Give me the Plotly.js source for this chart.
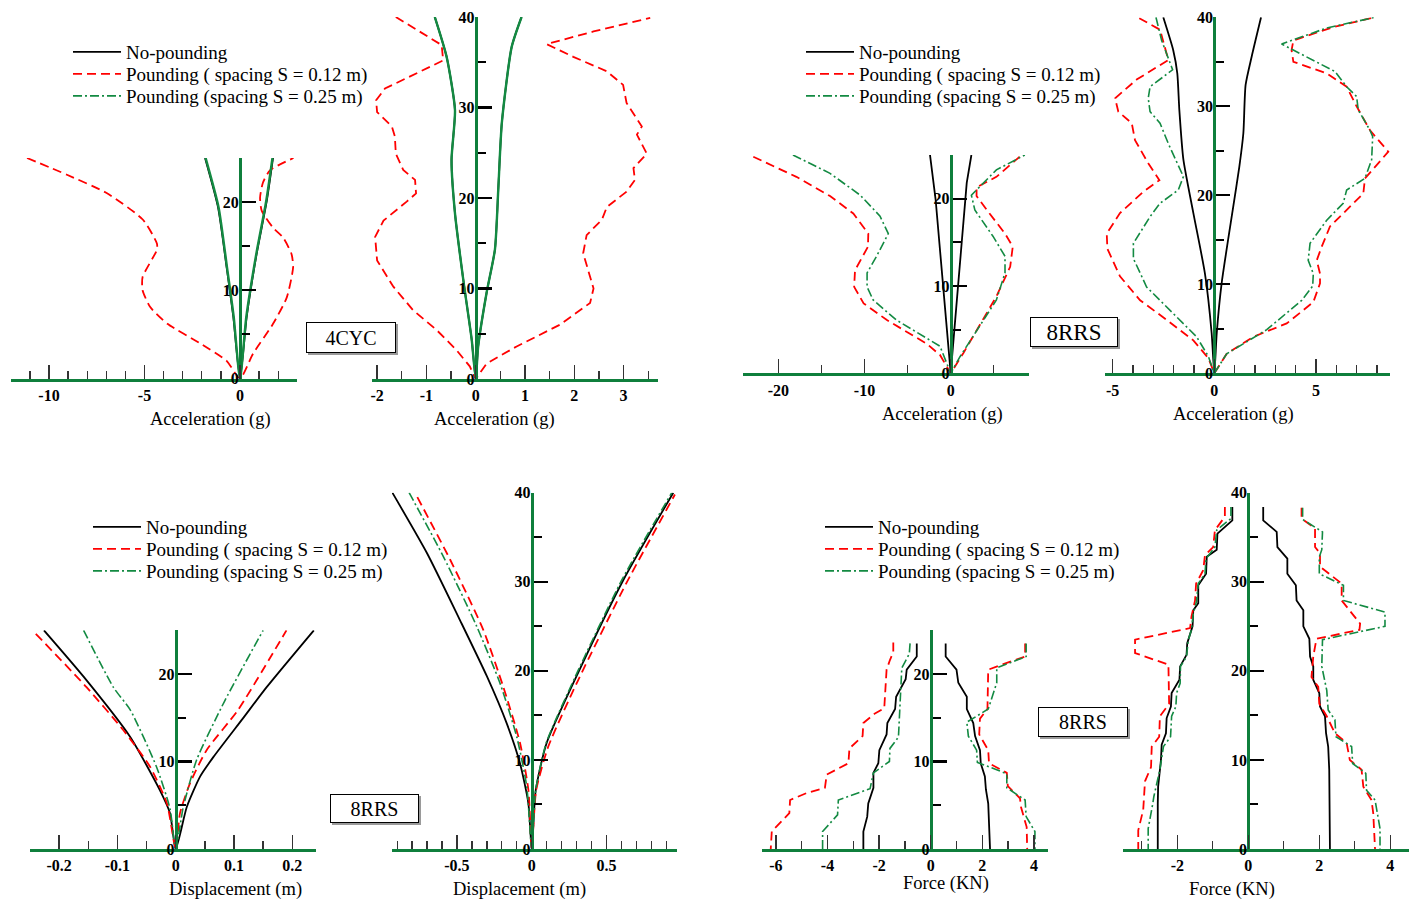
<!DOCTYPE html>
<html><head><meta charset="utf-8">
<script src="https://cdn.plot.ly/plotly-3.0.1.min.js"></script>
<style>html,body{margin:0;padding:0;background:#fff;}#chart{width:1420px;height:903px;}</style>
</head><body><div id="chart"></div>
<script>
// ---------- DATA ----------
// Panel 1: 4CYC, short building, acceleration (g)
const p1NoPoundX = [-1.83, -1.15, -0.7, -0.35, 0, 0.35, 0.87, 1.4, 1.73];
const p1NoPoundY = [25, 19.4, 12.6, 7, 0, 7, 14.1, 20.1, 25];
const p1Pound012X = [-11.15,-9.06,-6.96,-5.08,-4.35,-4.35,-5.1,-5.1,-4.7,-3.8,-2.1,-0.7,0,0.68,1.73,2.45,2.78,2.7,2.25,1.73,1.14,1.05,1.2,1.57,2.8];
const p1Pound012Y = [25,23.1,21.0,18.0,15.3,14.6,11.5,10.0,8.1,6.2,4.0,2.0,0,2.8,6.2,9.2,12.6,14.1,16.0,17.1,19.0,20.5,22.2,23.6,25];
const p1Pound025X = [-1.8, -1.12, -0.68, -0.33, 0, 0.33, 0.85, 1.37, 1.7];
const p1Pound025Y = [25, 19.4, 12.6, 7, 0, 7, 14.1, 20.1, 25];

// Panel 2: 4CYC, tall building, acceleration (g)
const p2NoPoundX = [-0.83,-0.59,-0.42,-0.49,-0.42,-0.25,-0.08,0,0.05,0.22,0.39,0.46,0.53,0.73,0.93];
const p2NoPoundY = [40,35.6,29.7,24.2,18.3,10.9,4.3,0,3.6,9.5,14.3,21.2,28.3,36.7,40];
const p2Pound012X = [-1.62,-0.69,-0.66,-1.4,-1.84,-2.02,-2.0,-1.7,-1.64,-1.62,-1.47,-1.23,-1.21,-1.4,-1.87,-2.04,-2.0,-1.67,-1.27,-0.79,-0.39,-0.12,0,0.22,0.83,1.71,2.32,2.39,2.18,2.25,2.56,2.66,3.06,3.23,3.2,3.47,3.27,3.37,3.06,2.99,2.66,1.98,1.44,2.39,3.54];
const p2Pound012Y = [40,36.9,35.2,33.2,32.1,30.8,29.5,27.9,26.8,24.9,23.1,22.0,20.5,19.6,17.5,15.7,13.1,10.2,7.6,5.4,3.2,1.4,0,1.7,3.6,6.0,8.4,10.0,13.9,15.9,17.6,19.0,20.7,22.0,23.3,24.9,27.0,27.9,30.5,32.5,34.0,35.6,37.0,38.4,39.9];
const p2Pound025X = [-0.83,-0.59,-0.42,-0.49,-0.42,-0.25,-0.08,0,0.05,0.22,0.39,0.46,0.53,0.73,0.93];
const p2Pound025Y = [40,35.6,29.7,24.2,18.3,10.9,4.3,0,3.6,9.5,14.3,21.2,28.3,36.7,40];

// Panel 3: 8RRS, short building, acceleration (g)
const p3NoPoundX = [-2.4,-1.75,0,1.86,2.4];
const p3NoPoundY = [25,19.9,0,21.8,25];
const p3Pound012X = [-22.9,-17.9,-14.0,-11.3,-9.56,-9.6,-11.1,-11.2,-10.1,-7.4,-2.8,-1.24,0,1.46,5.3,6.9,7.2,6.3,4.2,3.0,3.0,5.3,8.0];
const p3Pound012Y = [24.8,22.5,20.3,18.3,16.0,14.5,11.8,9.9,8.0,6.1,3.4,2.1,0,2.3,8.8,12.2,14.5,16.0,18.7,20.3,21.3,22.5,24.8];
const p3Pound025X = [-18.3,-14.0,-10.5,-8.2,-7.24,-8.6,-9.7,-9.7,-9.0,-6.3,-1.24,0,1.08,5.3,6.3,6.3,4.9,3.8,2.8,2.4,5.3,8.6];
const p3Pound025Y = [25,22.9,20.4,18.0,16.0,13.4,11.5,9.9,8.4,6.1,3.1,0,1.9,8.4,11.5,13.4,15.7,17.2,18.7,20.4,23.3,25];

// Panel 4: 8RRS, tall building, acceleration (g)
const p4NoPoundX = [-2.51,-2.02,-1.82,-1.72,-1.52,-1.03,-0.46,-0.13,0,0.12,0.36,0.93,1.23,1.43,1.54,1.84,2.3];
const p4NoPoundY = [40,36.3,33.7,29.6,24,18,11.2,4.5,0,4.5,10.1,18.7,23.2,27,32.4,35.6,40];
const p4Pound012X = [-3.69,-2.67,-2.26,-3.82,-4.88,-4.72,-4.06,-3.9,-3.25,-2.7,-3.49,-4.64,-5.29,-5.26,-4.64,-3.65,-2.34,-1.03,-0.29,0,0.61,1.92,3.56,4.87,5.2,5.2,5.04,5.28,5.69,6.67,7.33,7.41,8.56,7.66,7.0,6.51,5.53,3.89,3.8,3.89,5.85,7.9];
const p4Pound012Y = [39.9,38.6,35.2,33.0,30.9,29.4,28.1,26.2,23.6,21.7,20.4,18.0,15.7,14.0,10.9,8.2,6.0,3.7,1.7,0,2.2,4.1,5.6,8.0,10.1,11.2,12.7,14.2,16.5,18.7,20.2,21.9,24.9,27.3,30.0,32.2,33.7,35.0,36.3,37.4,38.9,40];
const p4Pound025X = [-2.87,-2.59,-2.05,-3.16,-3.25,-3.16,-2.67,-2.26,-1.52,-1.77,-2.67,-3.16,-3.98,-3.98,-3.33,-2.02,-0.87,-0.29,0,0.36,0.61,2.58,4.3,4.84,4.87,4.62,4.71,5.53,6.34,6.51,7.41,7.74,7.79,7.66,7.08,7.0,6.51,5.94,4.54,3.31,5.53,7.9];
const p4Pound025Y = [40,37.4,34.1,32.2,30.9,29.4,28.1,25.8,22.1,20.6,19.1,17.6,14.6,12.9,9.7,6.7,4.1,1.9,0,1.3,2.2,4.9,8.2,9.8,11.2,12.7,14.6,17.2,19.1,20.6,21.9,24.0,26.6,27.3,29.6,31.1,32.2,33.9,35.6,37.0,38.8,40];

// Panel 5: 8RRS, short building, displacement (m)
const p5NoPoundX = [-0.226,-0.158,-0.078,-0.027,-0.0098,0,0.019,0.042,0.0645,0.115,0.156,0.237];
const p5NoPoundY = [25,19.7,12.8,6.7,4.1,0,4.8,8.3,10.5,14.9,18.5,25];
const p5Pound012X = [-0.24,-0.153,-0.09,-0.044,-0.015,0,0.0074,0.0245,0.053,0.107,0.19];
const p5Pound012Y = [24.6,18.5,13.6,9.4,5.2,0,4.1,7.5,11.3,15.9,25];
const p5Pound025X = [-0.158,-0.107,-0.078,-0.033,-0.0098,0,0.013,0.036,0.0846,0.150];
const p5Pound025Y = [25,18.5,15.9,9.4,4.6,0,4.8,10.2,17,25];

// Panel 6: 8RRS, tall building, displacement (m)
const p6NoPoundX = [-0.932,-0.70,-0.48,-0.30,-0.167,-0.078,-0.022,0,0.027,0.10,0.30,0.613,0.947];
const p6NoPoundY = [40,33.2,25.7,19.4,14.1,9.6,5.1,0,6.6,11.9,19.4,30.2,40];
const p6Pound012X = [-0.765,-0.546,-0.324,-0.19,-0.078,-0.022,0,0.03,0.111,0.312,0.635,0.958];
const p6Pound012Y = [39.5,32.5,24.6,18.2,11.9,6.6,0,6.6,11.5,19.0,29.9,39.8];
const p6Pound025X = [-0.82,-0.59,-0.368,-0.212,-0.1,-0.033,0,0.027,0.097,0.293,0.603,0.937];
const p6Pound025Y = [40,32.8,25,18.6,12.6,7,0,6.6,11.9,19.4,30.2,40];

// Panel 7: 8RRS, short building, force (KN)
const p7NoPoundX = [-0.54,-0.54,-0.93,-0.97,-1.34,-1.38,-1.68,-1.71,-1.99,-2.03,-2.22,-2.22,-2.42,-2.46,-2.61,-2.61,null,0.58,0.58,1.0,1.07,1.40,1.40,1.65,1.72,1.91,1.94,2.10,2.14,2.23,2.27,2.3];
const p7NoPoundY = [23.5,22.0,20.5,19.4,17.4,16.0,14.4,13.1,11.3,9.8,8.7,7.0,5.2,3.7,2.0,0,null,23.5,22.0,20.5,19.0,17.4,16.0,14.4,12.9,11.3,9.8,8.3,6.8,5.2,1.8,0];
const p7Pound012X = [-1.45,-1.45,-1.58,-1.71,-1.8,-2.16,-2.61,-2.64,-3.15,-3.19,-4.03,-4.1,-4.81,-5.45,-5.48,-6.16,-6.2,null,3.66,3.66,2.69,2.23,2.2,1.91,1.88,2.23,2.26,2.95,2.99,3.46,3.5,3.72,3.74];
const p7Pound012Y = [23.6,22.5,21.6,20.5,16.1,15.5,14.4,12.9,11.5,9.8,8.5,7.0,6.4,5.6,4.1,2.0,0,null,23.5,22.0,21.0,20.5,16.0,14.9,13.1,11.3,9.8,8.7,7.2,5.8,4.8,2.5,0];
const p7Pound025X = [-0.80,-0.83,-1.12,-1.15,-1.25,-1.58,-1.6,-2.22,-2.35,-3.58,-3.61,-4.19,-4.19,null,3.7,3.7,2.56,2.56,2.23,1.40,1.46,1.78,1.81,2.95,2.95,3.66,3.7,4.04,4.04];
const p7Pound025Y = [23.5,22.3,20.7,18.6,12.8,11.5,10.0,8.7,6.9,5.6,3.9,2.0,0,null,23.5,22.0,20.7,19.0,16.0,14.5,12.9,11.3,9.9,8.6,7.0,5.6,3.7,2.0,0];

// Panel 8: 8RRS, tall building, force (KN)
const p8NoPoundX = [-0.45,-0.45,-0.87,-0.89,-1.17,-1.19,-1.41,-1.41,-1.55,-1.57,-1.72,-1.74,-1.92,-1.94,-2.16,-2.18,-2.3,-2.32,-2.44,-2.46,-2.54,-2.55,-2.55,null,0.42,0.42,0.8,0.82,1.1,1.1,1.34,1.36,1.55,1.55,1.72,1.74,1.83,1.83,2.0,2.02,2.16,2.19,2.25,2.28,2.3];
const p8NoPoundY = [38.4,36.9,35.4,33.6,32.8,30.9,29.6,27.6,26.8,25.0,23.1,21.8,20.5,19.0,17.5,16.0,14.7,13.0,11.7,10.0,7.0,5.1,0,null,38.4,36.9,35.6,33.9,32.6,30.9,29.6,27.9,26.8,25.0,23.6,21.6,20.5,19.0,17.5,16.0,14.9,13.0,11.5,8.9,0];
const p8Pound012X = [-0.66,-0.66,-0.94,-0.99,-1.22,-1.27,-1.47,-1.5,-1.6,-1.64,-3.19,-3.19,-2.25,-2.23,-2.49,-2.51,-2.72,-2.74,-2.91,-2.96,-3.1,-3.1,null,1.5,1.5,1.88,1.88,2.02,2.02,2.63,2.63,3.15,3.13,1.92,1.83,1.78,1.97,2.0,2.21,2.44,2.77,2.86,3.19,3.24,3.47,3.52,3.57];
const p8Pound012Y = [38.4,37.3,35.8,33.9,33.0,31.3,29.8,27.9,26.1,24.8,23.5,22.0,20.7,16.3,14.9,12.6,11.5,9.2,7.6,4.4,2.1,0,null,38.3,37.1,36.0,33.9,33.2,31.7,29.8,27.9,25.3,24.6,23.6,21.6,19.3,18.2,16.3,14.9,13.0,11.9,10.0,8.9,7.0,5.5,4.0,0];
const p8Pound025X = [-0.49,-0.49,-0.89,-0.94,-1.19,-1.22,-1.41,-1.46,-1.55,-1.6,-1.69,-1.74,-1.91,-1.92,-2.02,-2.04,-2.16,-2.19,-2.39,-2.49,-2.66,-2.69,-2.82,-2.82,null,1.53,1.53,2.09,2.07,2.0,2.0,2.68,2.68,3.85,3.85,2.09,2.07,2.21,2.25,2.44,2.47,2.91,2.94,3.31,3.33,3.57,3.71,3.71];
const p8Pound025Y = [38.4,37.1,35.8,33.9,32.6,30.9,29.8,27.8,26.4,24.6,23.5,21.6,20.5,18.6,17.5,16.0,14.9,12.6,11.5,8.9,5.9,5.1,2.3,0,null,38.3,37.0,35.6,33.6,32.8,30.9,29.6,27.9,26.6,25.0,23.5,20.5,17.8,15.6,14.5,12.6,11.5,9.6,8.5,6.6,5.5,2.3,0];

// Tick labels
const xTicks1 = [-10,-5,0];          const xTickText1 = ['-10','-5','0'];
const xTicks2 = [-2,-1,0,1,2,3];     const xTickText2 = ['-2','-1','0','1','2','3'];
const xTicks3 = [-20,-10,0];         const xTickText3 = ['-20','-10','0'];
const xTicks4 = [-5,0,5];            const xTickText4 = ['-5','0','5'];
const xTicks5 = [-0.2,-0.1,0,0.1,0.2]; const xTickText5 = ['-0.2','-0.1','0','0.1','0.2'];
const xTicks6 = [-0.5,0,0.5];        const xTickText6 = ['-0.5','0','0.5'];
const xTicks7 = [-6,-4,-2,0,2,4];    const xTickText7 = ['-6','-4','-2','0','2','4'];
const xTicks8 = [-2,0,2,4];          const xTickText8 = ['-2','0','2','4'];
const yTicksShort = [0,10,20];       const yTickTextShort = ['0','10','20'];
const yTicksTall = [0,10,20,30,40];  const yTickTextTall = ['0','10','20','30','40'];

const seriesNames = ['No-pounding','Pounding ( spacing S = 0.12 m)','Pounding (spacing S = 0.25 m)'];
const accTitle = 'Acceleration (g)', dispTitle = 'Displacement (m)', forceTitle = 'Force (KN)';
const boxLabels = ['4CYC','8RRS','8RRS','8RRS'];

// ---------- LAYOUT / STYLE ----------
const W = 1420, H = 903;
const GREEN = '#0f7f3c';
const FONT = '"Liberation Serif","Times New Roman",Times,serif';

const panels = [
  {xL:11,  xR:297,  x0:240,    kx:19.1,  yB:378.5, yT:158,   ymax:25, xt:xTicks1, xtt:xTickText1, xmin:1,    yt:yTicksShort, ytt:yTickTextShort, smooth:[true,true,true]},
  {xL:372, xR:658,  x0:475.7,  kx:49.3,  yB:379,   yT:17,    ymax:40, xt:xTicks2, xtt:xTickText2, xmin:0.5,  yt:yTicksTall,  ytt:yTickTextTall,  smooth:[true,false,true]},
  {xL:743, xR:1029, x0:950.7,  kx:8.62,  yB:373.3, yT:155,   ymax:25, xt:xTicks3, xtt:xTickText3, xmin:5,    yt:yTicksShort, ytt:yTickTextShort, smooth:[false,false,false]},
  {xL:1105,xR:1390, x0:1214.3, kx:20.33, yB:373.3, yT:17.3,  ymax:40, xt:xTicks4, xtt:xTickText4, xmin:1,    yt:yTicksTall,  ytt:yTickTextTall,  smooth:[true,false,false]},
  {xL:30,  xR:316,  x0:175.7,  kx:583,   yB:849,   yT:630.3, ymax:25, xt:xTicks5, xtt:xTickText5, xmin:0.05, yt:yTicksShort, ytt:yTickTextShort, smooth:[true,true,true]},
  {xL:392, xR:677,  x0:531.7,  kx:149.5, yB:849,   yT:492.7, ymax:40, xt:xTicks6, xtt:xTickText6, xmin:0.1,  yt:yTicksTall,  ytt:yTickTextTall,  smooth:[true,true,true]},
  {xL:762, xR:1048, x0:930.7,  kx:25.8,  yB:849,   yT:630.3, ymax:25, xt:xTicks7, xtt:xTickText7, xmin:1,    yt:yTicksShort, ytt:yTickTextShort, smooth:[false,false,false]},
  {xL:1123,xR:1409, x0:1248.3, kx:35.5,  yB:849,   yT:492.7, ymax:40, xt:xTicks8, xtt:xTickText8, xmin:1,    yt:yTicksTall,  ytt:yTickTextTall,  smooth:[false,false,false]}
];

const seriesData = [
  [[p1NoPoundX,p1NoPoundY],[p1Pound012X,p1Pound012Y],[p1Pound025X,p1Pound025Y]],
  [[p2NoPoundX,p2NoPoundY],[p2Pound012X,p2Pound012Y],[p2Pound025X,p2Pound025Y]],
  [[p3NoPoundX,p3NoPoundY],[p3Pound012X,p3Pound012Y],[p3Pound025X,p3Pound025Y]],
  [[p4NoPoundX,p4NoPoundY],[p4Pound012X,p4Pound012Y],[p4Pound025X,p4Pound025Y]],
  [[p5NoPoundX,p5NoPoundY],[p5Pound012X,p5Pound012Y],[p5Pound025X,p5Pound025Y]],
  [[p6NoPoundX,p6NoPoundY],[p6Pound012X,p6Pound012Y],[p6Pound025X,p6Pound025Y]],
  [[p7NoPoundX,p7NoPoundY],[p7Pound012X,p7Pound012Y],[p7Pound025X,p7Pound025Y]],
  [[p8NoPoundX,p8NoPoundY],[p8Pound012X,p8Pound012Y],[p8Pound025X,p8Pound025Y]]
];
// legend box for each series of each panel (one box per legend row)
const legendOf = [
  null, null,
  ['legend','legend5','legend6'],
  ['legend2','legend7','legend8'],
  ['legend3','legend9','legend10'],
  null,
  ['legend4','legend11','legend12'],
  null
];
// legend rows: [sample-start px, first-row centre px]
const legendSpots = [
  {names:['legend','legend5','legend6'],   x:72,  y:52},
  {names:['legend2','legend7','legend8'],  x:805, y:52},
  {names:['legend3','legend9','legend10'], x:92,  y:527},
  {names:['legend4','legend11','legend12'],x:824, y:527}
];

const lineStyles = [
  {color:'#000000', width:1.8},
  {color:'#ff0000', width:1.8, dash:'9px,5px'},
  {color:'#138a42', width:1.6, dash:'9px,3px,2px,3px'}
];

const traces = [];
const layout = {
  width: W, height: H,
  margin: {l:0, r:0, t:0, b:0},
  paper_bgcolor: '#ffffff', plot_bgcolor: 'rgba(0,0,0,0)',
  font: {family: FONT, color:'#000'},
  showlegend: true,
  annotations: [], shapes: []
};

panels.forEach((p, i) => {
  const n = i + 1;
  const xa = 'xaxis' + (n === 1 ? '' : n), ya = 'yaxis' + (n === 1 ? '' : n);
  const xr = [(p.xL - p.x0) / p.kx, (p.xR - p.x0) / p.kx];
  layout[xa] = {
    domain: [p.xL / W, p.xR / W], range: xr, anchor: 'y' + n,
    showgrid: false, zeroline: false, showline: true, linecolor: GREEN, linewidth: 3,
    tickmode: 'array', tickvals: p.xt, ticktext: p.xtt,
    ticks: 'inside', ticklen: 14, tickwidth: 1.5, tickcolor: '#333',
    minor: {tick0: 0, dtick: p.xmin, ticks: 'inside', ticklen: 8, tickwidth: 1.3, tickcolor: '#333', showgrid:false},
    tickfont: {family: FONT, size: 16, weight: 'bold', color: '#000'},
    fixedrange: true
  };
  layout[ya] = {
    domain: [1 - p.yB / H, 1 - p.yT / H], range: [0, p.ymax], anchor: 'free',
    position: p.x0 / W, side: 'left',
    showgrid: false, zeroline: false, showline: true, linecolor: GREEN, linewidth: 3,
    tickmode: 'array', tickvals: p.yt, ticktext: p.ytt,
    ticks: 'inside', ticklen: 14, tickwidth: 2.2, tickcolor: '#000',
    minor: {tick0: 0, dtick: 5, ticks: 'inside', ticklen: 8, tickwidth: 2, tickcolor: '#000', showgrid:false},
    tickfont: {family: FONT, size: 16, weight: 'bold', color: '#000'},
    ticklabelstandoff: -3,
    fixedrange: true
  };
  seriesData[i].forEach((s, k) => {
    let line = Object.assign({}, lineStyles[k]);
    if (i < 2 && k === 2) { line = {color: '#138a42', width: 2.4}; }
    if (p.smooth[k]) { line.shape = 'spline'; line.smoothing = 0.6; }
    const t = {
      type: 'scatter', mode: 'lines', x: s[0], y: s[1],
      xaxis: 'x' + (n === 1 ? '' : n), yaxis: 'y' + (n === 1 ? '' : n),
      name: seriesNames[k], line: line, connectgaps: false, hoverinfo: 'skip',
      showlegend: legendOf[i] !== null
    };
    if (legendOf[i]) t.legend = legendOf[i][k];
    traces.push(t);
  });
});

// legends: one Plotly legend per row so the row spacing matches (22 px)
legendSpots.forEach(spot => {
  spot.names.forEach((nm, r) => {
    layout[nm] = {
      x: (spot.x - 4) / W, y: 1 - (spot.y + r * 22 - 19) / H, xanchor: 'left', yanchor: 'top',
      bgcolor: 'rgba(0,0,0,0)', borderwidth: 0,
      font: {family: FONT, size: 19, color: '#000'}, itemwidth: 48,
      traceorder: 'normal', itemclick: false, itemdoubleclick: false
    };
  });
});

// axis titles
const titles = [
  [accTitle, 210, 420], [accTitle, 495, 420], [accTitle, 942, 414], [accTitle, 1233, 414],
  [dispTitle, 235, 889], [dispTitle, 519, 889], [forceTitle, 946, 883], [forceTitle, 1232, 889]
];
titles.forEach(t => layout.annotations.push({
  text: t[0], x: t[1] / W, y: 1 - t[2] / H, xref: 'paper', yref: 'paper',
  xanchor: 'center', yanchor: 'middle', showarrow: false,
  font: {family: FONT, size: 18.5, color: '#000'}
}));

// boxed labels
const boxes = [[306, 396, 322, 353, 20], [1030, 1118, 317, 347, 23], [330, 419, 794, 823, 20], [1038, 1128, 707, 737, 20]];
boxes.forEach((b, i) => {
  layout.shapes.push({type: 'rect', xref: 'paper', yref: 'paper',
    x0: (b[0] + 2) / W, x1: (b[1] + 2) / W, y0: 1 - (b[3] + 2) / H, y1: 1 - (b[2] + 2) / H,
    fillcolor: '#9a9a9a', line: {width: 0}, layer: 'above'});
  layout.annotations.push({
    text: boxLabels[i], x: (b[0] + b[1]) / 2 / W, y: 1 - (b[2] + b[3]) / 2 / H,
    xref: 'paper', yref: 'paper', xanchor: 'center', yanchor: 'middle', showarrow: false,
    width: b[1] - b[0] - 2, height: b[3] - b[2] - 2, borderpad: 0,
    bgcolor: '#ffffff', bordercolor: '#000', borderwidth: 1,
    font: {family: FONT, size: b[4], color: '#000'}
  });
});

Plotly.newPlot('chart', traces, layout, {staticPlot: true, displayModeBar: false});
</script>
</body></html>
